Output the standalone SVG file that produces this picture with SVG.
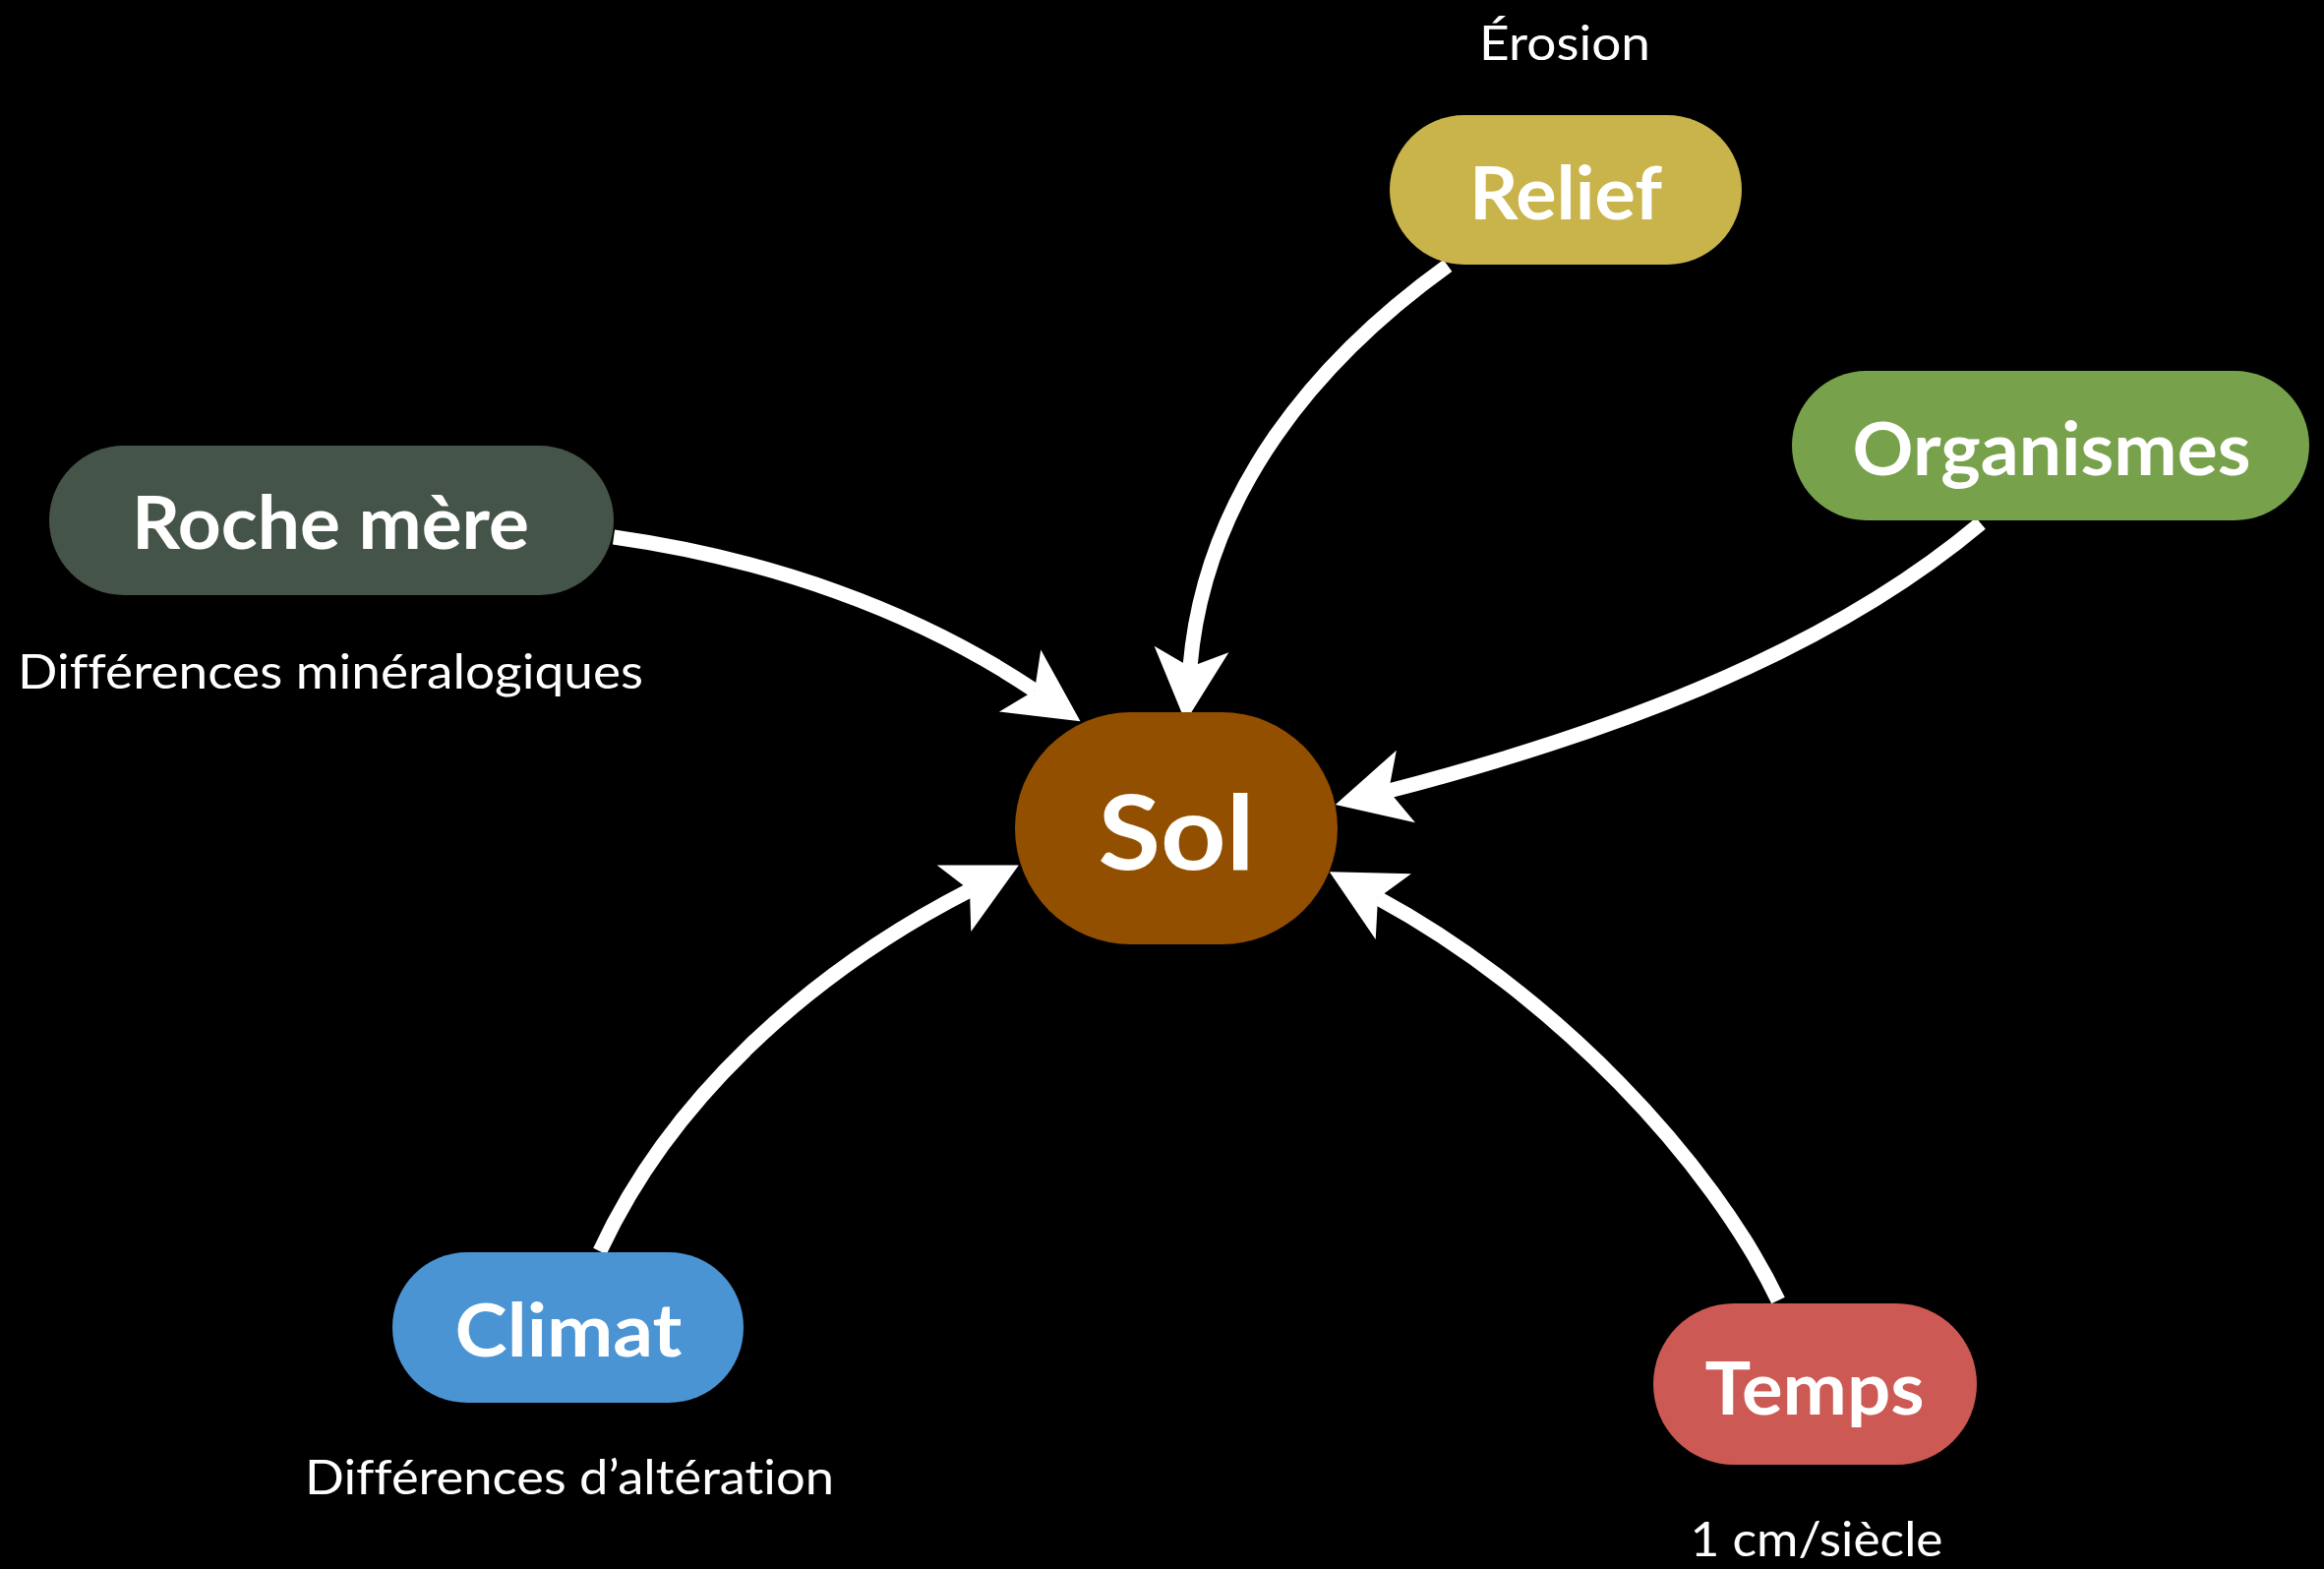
<svg xmlns="http://www.w3.org/2000/svg" width="2363" height="1595" viewBox="0 0 2363 1595">
  <style>
    .node-label { font-family: Lato, "Noto Sans", "Liberation Sans", sans-serif; font-weight: 700; fill: #ffffff; text-anchor: middle; }
    .note { font-family: Lato, "Noto Sans", "Liberation Sans", sans-serif; font-weight: 400; font-size: 49px; fill: #ffffff; text-anchor: middle; font-variant-ligatures: no-common-ligatures no-discretionary-ligatures; }
    .link { fill: none; stroke: #ffffff; stroke-width: 15; marker-end: url(#head); }
  </style>
  <defs>
    <!-- swallowtail arrowhead; origin sits at the notch, tip 56px ahead -->
    <marker id="head" markerUnits="userSpaceOnUse" viewBox="-20 -40 80 80" markerWidth="80" markerHeight="80" refX="0" refY="0" orient="auto" overflow="visible">
      <path d="M56,0 L-18,-38 L0,0 L-18,38 Z" fill="#ffffff"/>
    </marker>
  </defs>

  <rect width="2363" height="1595" fill="#000000"/>

  <g id="connectors">
    <path class="link" d="M1472,270 C1340,365 1225,500 1210,678"/>
    <path class="link" d="M624,546 C780,568 930,620 1052,702"/>
    <path class="link" d="M2014,532 C1850,670 1620,750 1412,804"/>
    <path class="link" d="M1808,1322 C1740,1180 1580,1010 1401,913"/>
    <path class="link" d="M610,1272 C680,1120 820,990 986,905"/>
  </g>

  <g id="sol">
    <rect x="1032" y="724" width="328" height="236" rx="118" fill="#934F00"/>
    <text class="node-label" x="1196" y="884" font-size="106" textLength="159" lengthAdjust="spacingAndGlyphs">Sol</text>
  </g>

  <g id="relief">
    <rect x="1413" y="117" width="358" height="152" rx="76" fill="#C9B34B"/>
    <text class="node-label" x="1592" y="223" font-size="74" textLength="196" lengthAdjust="spacingAndGlyphs">Relief</text>
    <text class="note" x="1591" y="61" textLength="174" lengthAdjust="spacingAndGlyphs">Érosion</text>
  </g>

  <g id="roche-mere">
    <rect x="50" y="453" width="574" height="152" rx="76" fill="#455448"/>
    <text class="node-label" x="336" y="558" font-size="74" textLength="404" lengthAdjust="spacingAndGlyphs">Roche mère</text>
    <text class="note" x="336" y="700" textLength="636" lengthAdjust="spacingAndGlyphs">Différences minéralogiques</text>
  </g>

  <g id="organismes">
    <rect x="1822" y="377" width="526" height="152" rx="76" fill="#78A14C"/>
    <text class="node-label" x="2086" y="483" font-size="74" textLength="405" lengthAdjust="spacingAndGlyphs">Organismes</text>
  </g>

  <g id="climat">
    <rect x="399" y="1273" width="357" height="153" rx="76" fill="#4A94D4"/>
    <text class="node-label" x="578" y="1379" font-size="74" textLength="231" lengthAdjust="spacingAndGlyphs">Climat</text>
    <text class="note" x="579" y="1519" textLength="538" lengthAdjust="spacingAndGlyphs">Différences d’altération</text>
  </g>

  <g id="temps">
    <rect x="1681" y="1325" width="329" height="164" rx="82" fill="#CD5954"/>
    <text class="node-label" x="1845" y="1438" font-size="74" textLength="223" lengthAdjust="spacingAndGlyphs">Temps</text>
    <text class="note" x="1847" y="1582" textLength="257" lengthAdjust="spacingAndGlyphs">1 cm/siècle</text>
  </g>
</svg>
